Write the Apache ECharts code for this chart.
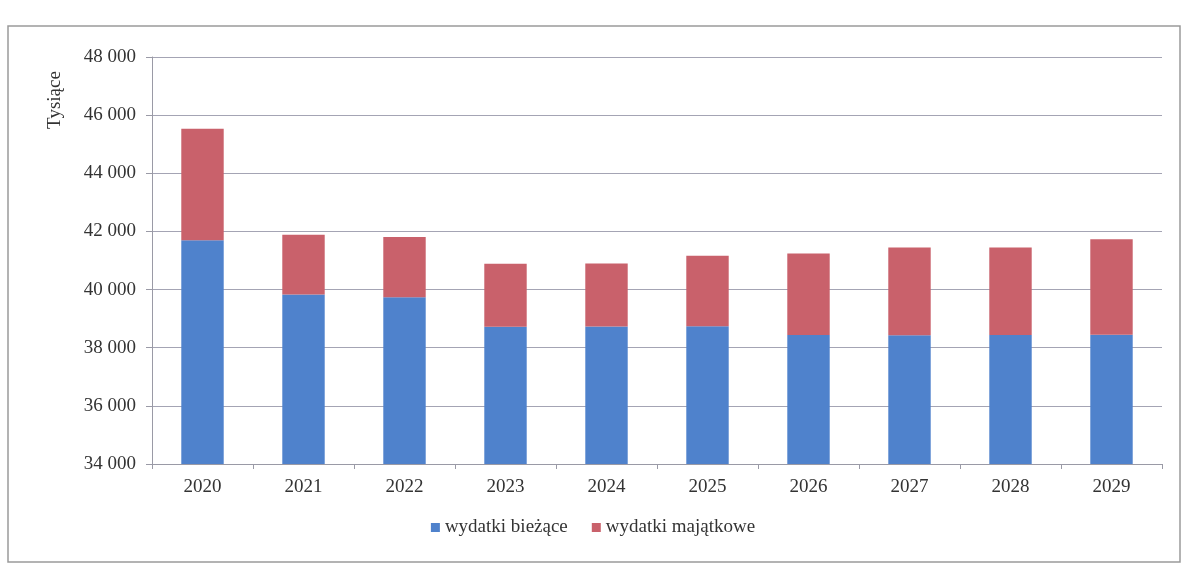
<!DOCTYPE html>
<html><head><meta charset="utf-8">
<script src="https://cdn.jsdelivr.net/npm/echarts@6/dist/echarts.min.js"></script>
<style>html,body{margin:0;padding:0;background:#fff}#c{width:1186px;height:568px}</style>
</head><body><div id="c"></div>
<script>
const years = ['2020','2021','2022','2023','2024','2025','2026','2027','2028','2029'];
const wydatkiBiezace = [41700, 39830, 39740, 38720, 38730, 38740, 38440, 38430, 38440, 38450];
const wydatkiMajatkowe = [3830, 2060, 2070, 2170, 2170, 2420, 2800, 3015, 3005, 3280];
const seriesNames = ['wydatki bieżące', 'wydatki majątkowe'];
const axisName = 'Tysiące';

const font = '"Liberation Serif", "DejaVu Serif", serif';
const chart = echarts.init(document.getElementById('c'));
chart.setOption({
  animation: false,
  backgroundColor: '#ffffff',
  grid: { left: 152, right: 24, top: 57, bottom: 104 },
  legend: {
    bottom: 26, left: 'center',
    itemWidth: 9, itemHeight: 9, itemGap: 24,
    icon: 'rect',
    textStyle: { fontFamily: font, fontSize: 19, color: '#333' },
    data: seriesNames
  },
  graphic: [
    { type: 'rect', shape: { x: 8, y: 26, width: 1172, height: 536 }, style: { fill: 'none', stroke: '#9a9a9a', lineWidth: 1.5 }, silent: true },
    { type: 'text', x: 55, y: 100, rotation: Math.PI / 2,
      style: { text: axisName, fontFamily: font, fontSize: 19, fill: '#333', align: 'center', verticalAlign: 'middle' } }
  ],
  xAxis: {
    type: 'category', data: years,
    axisLine: { lineStyle: { color: '#9a9aa6', width: 1 } },
    axisTick: { show: true, length: 5, lineStyle: { color: '#9a9aa6' } },
    axisLabel: { fontFamily: font, fontSize: 19, color: '#333', margin: 14 }
  },
  yAxis: {
    type: 'value', min: 34000, max: 48000, interval: 2000,
    axisLine: { show: true, lineStyle: { color: '#9a9aa6', width: 1 } },
    axisTick: { show: true, length: 6, lineStyle: { color: '#9a9aa6' } },
    axisLabel: { fontFamily: font, fontSize: 19, color: '#333', margin: 16,
      formatter: v => String(v).replace(/\B(?=(\d{3})+(?!\d))/g, ' ') },
    splitLine: { lineStyle: { color: '#a4a4b4', width: 1 } }
  },
  series: [
    { name: seriesNames[0], type: 'bar', stack: 'a', data: wydatkiBiezace, barWidth: '42%', itemStyle: { color: '#4f82cc' } },
    { name: seriesNames[1], type: 'bar', stack: 'a', data: wydatkiMajatkowe, barWidth: '42%', itemStyle: { color: '#c9616b' } }
  ]
});
</script></body></html>
